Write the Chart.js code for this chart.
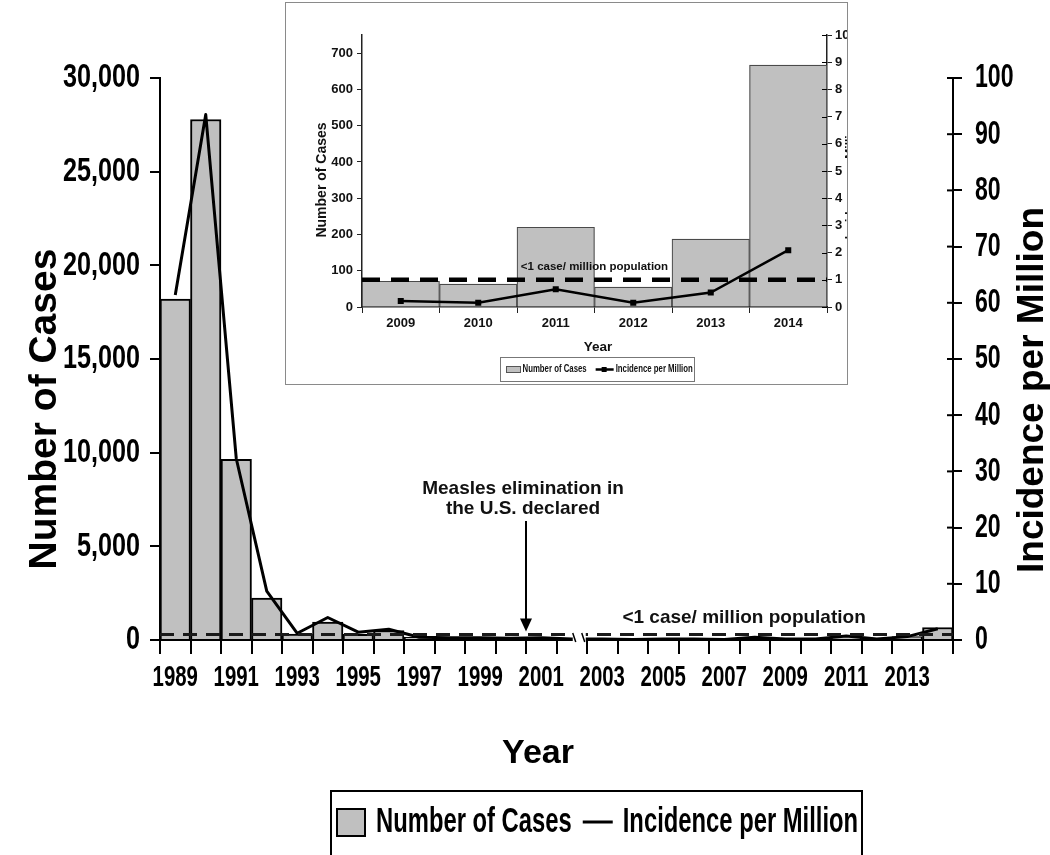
<!DOCTYPE html>
<html>
<head>
<meta charset="utf-8">
<script src="https://cdn.jsdelivr.net/npm/chart.js@4.4.1/dist/chart.umd.min.js"></script>
<style>
body { margin:0; background:#fff; width:1050px; height:855px; overflow:hidden; position:relative; }
#main { position:absolute; left:0; top:0; }
#insetBox { position:absolute; left:285px; top:2px; width:561px; height:381px; border:1px solid #8a8a8a; background:#fff; }
#inset { position:absolute; left:0; top:0; }
</style>
</head>
<body>
<canvas id="main" width="1050" height="855"></canvas>
<div id="insetBox">
  <canvas id="inset" width="561" height="381"></canvas>
</div>
<script>
// main chart, 1989-2014
const years = ['1989','1990','1991','1992','1993','1994','1995','1996','1997','1998','1999','2000','2001',
  '2002','2003','2004','2005','2006','2007','2008','2009','2010','2011','2012','2013','2014'];
const cases = [18193, 27786, 9643, 2237, 312, 963, 309, 508, 138, 100, 100, 86, 116,
  44, 56, 37, 66, 55, 43, 140, 71, 63, 220, 55, 187, 667];
const incidence = [61.4, 93.5, 32.3, 8.7, 1.2, 4.0, 1.4, 1.9, 0.5, 0.4, 0.4, 0.3, 0.4,
  0.2, 0.2, 0.1, 0.2, 0.2, 0.1, 0.5, 0.2, 0.2, 0.7, 0.2, 0.6, 2.0];
const threshold = 1;
const eliminationIndex = 11.5;   // between 2000 and 2001
const breakIndex = 13;           // axis break drawn at 2002

// inset, 2009-2014
const insetYears = ['2009','2010','2011','2012','2013','2014'];
const insetCases = [71, 63, 220, 55, 187, 667];
const insetIncidence = [0.22, 0.16, 0.65, 0.16, 0.53, 2.09];

const sans = '"Liberation Sans", Arial, sans-serif';

function rotText(ctx, txt, x, y, font) {
  ctx.save();
  ctx.translate(x, y);
  ctx.rotate(-Math.PI / 2);
  ctx.font = font;
  ctx.textAlign = 'center';
  ctx.textBaseline = 'middle';
  ctx.fillText(txt, 0, 0);
  ctx.restore();
}

// no narrow font installed: squeeze bold Liberation Sans horizontally
function narrowText(ctx, txt, x, y, size, align, k) {
  k = k || 0.68;
  ctx.save();
  ctx.font = 'bold ' + size + 'px ' + sans;
  ctx.textBaseline = 'middle';
  ctx.textAlign = 'left';
  const w = ctx.measureText(txt).width * k;
  const x0 = align === 'center' ? x - w / 2 : align === 'right' ? x - w : x;
  ctx.translate(x0, y);
  ctx.scale(k, 1);
  ctx.fillText(txt, 0, 0);
  ctx.restore();
  return w;
}

const mainOverlay = {
  id: 'mainOverlay',
  afterDatasetsDraw(chart) {
    const { ctx, chartArea: a, scales: { x, y, y1 } } = chart;
    ctx.save();
    ctx.fillStyle = '#000';
    ctx.strokeStyle = '#000';

    // threshold line
    const ty = y1.getPixelForValue(threshold);
    ctx.lineWidth = 3;
    ctx.setLineDash([14, 9]);
    ctx.strokeStyle = '#1a1a1a';
    ctx.beginPath(); ctx.moveTo(a.left, ty); ctx.lineTo(a.right, ty); ctx.stroke();
    ctx.setLineDash([]);
    ctx.font = 'bold 19px ' + sans;
    ctx.textAlign = 'center';
    ctx.textBaseline = 'middle';
    ctx.fillStyle = '#111';
    ctx.fillText('<1 case/ million population', x.getPixelForValue(18.65), ty - 17);

    // axis break at 2002
    const bx = x.getPixelForValue(breakIndex);
    ctx.fillStyle = '#fff';
    ctx.fillRect(bx + 1, a.bottom - 8, 13, 14);
    ctx.strokeStyle = '#000';
    ctx.lineWidth = 1.5;
    ctx.beginPath();
    ctx.moveTo(bx + 1, a.bottom - 7); ctx.lineTo(bx + 4, a.bottom + 2);
    ctx.moveTo(bx + 10, a.bottom - 7); ctx.lineTo(bx + 13, a.bottom + 2);
    ctx.stroke();

    // elimination arrow + note
    const ax = (x.getPixelForValue(Math.floor(eliminationIndex)) + x.getPixelForValue(Math.ceil(eliminationIndex))) / 2;
    const tip = y1.getPixelForValue(1.5);
    ctx.lineWidth = 2;
    ctx.beginPath(); ctx.moveTo(ax, 521); ctx.lineTo(ax, tip - 10); ctx.stroke();
    ctx.fillStyle = '#000';
    ctx.beginPath(); ctx.moveTo(ax - 6, tip - 13); ctx.lineTo(ax + 6, tip - 13); ctx.lineTo(ax, tip); ctx.closePath(); ctx.fill();
    ctx.font = 'bold 19px ' + sans;
    ctx.fillStyle = '#111';
    ctx.fillText('Measles elimination in', ax - 3, 489);
    ctx.fillText('the U.S. declared', ax - 3, 509);

    // inner half of right-axis ticks
    ctx.strokeStyle = '#000';
    ctx.lineWidth = 2;
    y1.ticks.forEach(t => {
      const py = y1.getPixelForValue(t.value);
      ctx.beginPath(); ctx.moveTo(a.right - 6, py); ctx.lineTo(a.right, py); ctx.stroke();
    });

    // tick labels (condensed)
    ctx.fillStyle = '#000';
    y.ticks.forEach(t => narrowText(ctx, t.value.toLocaleString('en-US'), a.left - 20, y.getPixelForValue(t.value), 34, 'right', 0.74));
    y1.ticks.forEach(t => narrowText(ctx, String(t.value), a.right + 22, y1.getPixelForValue(t.value), 34, 'left'));
    years.forEach((yr, i) => { if (i % 2 === 0) narrowText(ctx, yr, x.getPixelForValue(i), 678, 30, 'center'); });

    // axis titles
    rotText(ctx, 'Number of Cases', 45, 409, 'bold 39px ' + sans);
    rotText(ctx, 'Incidence per Million', 1033, 390, 'bold 37px ' + sans);
    ctx.font = 'bold 34px ' + sans;
    ctx.textAlign = 'center';
    ctx.fillText('Year', 538, 754);

    // legend
    const ds = chart.data.datasets;
    const lx = 331, ly = 791, mid = ly + 31;
    ctx.lineWidth = 2;
    ctx.strokeStyle = '#000';
    ctx.strokeRect(lx, ly, 531, 100);
    ctx.fillStyle = ds[0].backgroundColor;
    ctx.fillRect(lx + 6, mid - 13, 28, 27);
    ctx.strokeRect(lx + 6, mid - 13, 28, 27);
    ctx.fillStyle = '#000';
    let cx = lx + 45;
    cx += narrowText(ctx, ds[0].label, cx, mid, 35, 'left');
    ctx.lineWidth = 3;
    ctx.beginPath(); ctx.moveTo(cx + 11, mid); ctx.lineTo(cx + 41, mid); ctx.stroke();
    narrowText(ctx, ds[1].label, cx + 51, mid, 35, 'left');
    ctx.restore();
  }
};

const mainChart = new Chart(document.getElementById('main'), {
  type: 'bar',
  data: {
    labels: years,
    datasets: [{
      label: 'Number of Cases',
      data: cases,
      yAxisID: 'y',
      backgroundColor: '#c0c0c0',
      borderColor: '#000',
      borderWidth: 2,
      barPercentage: 1,
      categoryPercentage: 1,
      order: 1
    }, {
      type: 'line',
      label: 'Incidence per Million',
      data: incidence,
      yAxisID: 'y1',
      borderColor: '#000',
      borderWidth: 3,
      borderJoinStyle: 'round',
      pointRadius: 0,
      tension: 0,
      order: 0
    }]
  },
  options: {
    responsive: false,
    animation: false,
    layout: { padding: { top: 78, left: 0, right: 0, bottom: 0 } },
    plugins: { legend: { display: false }, tooltip: { enabled: false } },
    scales: {
      x: {
        grid: { drawOnChartArea: false, offset: true, color: '#000', lineWidth: 2, tickLength: 14 },
        border: { color: '#000', width: 2 },
        ticks: { display: false, autoSkip: false, maxRotation: 0 },
        afterFit: s => { s.height = 215; }
      },
      y: {
        position: 'left', min: 0, max: 30000,
        grid: { drawOnChartArea: false, color: '#000', lineWidth: 2, tickLength: 10 },
        border: { color: '#000', width: 2 },
        ticks: { display: false, stepSize: 5000 },
        afterFit: s => { s.width = 160; }
      },
      y1: {
        position: 'right', min: 0, max: 100,
        grid: { drawOnChartArea: false, color: '#000', lineWidth: 2, tickLength: 9 },
        border: { color: '#000', width: 2 },
        ticks: { display: false, stepSize: 10 },
        afterFit: s => { s.width = 97; }
      }
    }
  },
  plugins: [mainOverlay]
});

const insetOverlay = {
  id: 'insetOverlay',
  afterDatasetsDraw(chart) {
    const { ctx, chartArea: a, scales: { y1 } } = chart;
    ctx.save();
    const ty = y1.getPixelForValue(threshold);
    ctx.strokeStyle = '#000';
    ctx.lineWidth = 4.5;
    ctx.setLineDash([18, 11]);
    ctx.beginPath(); ctx.moveTo(a.left, ty); ctx.lineTo(a.right, ty); ctx.stroke();
    ctx.setLineDash([]);
    ctx.fillStyle = '#111';
    ctx.font = 'bold 11.5px ' + sans;
    ctx.textAlign = 'center';
    ctx.textBaseline = 'middle';
    ctx.fillText('<1 case/ million population', (a.left + a.right) / 2, ty - 13);

    ctx.lineWidth = 1;
    y1.ticks.forEach(t => {
      const py = Math.round(y1.getPixelForValue(t.value)) + 0.5;
      ctx.beginPath(); ctx.moveTo(a.right - 5, py); ctx.lineTo(a.right, py); ctx.stroke();
    });

    rotText(ctx, 'Number of Cases', 36, 177, 'bold 14px ' + sans);
    rotText(ctx, 'Incidence per Million', 565, 177, 'bold 12px ' + sans);
    ctx.font = 'bold 13.5px ' + sans;
    ctx.fillText('Year', 312, 344);

    // legend
    const ds = chart.data.datasets;
    const lx = 214.5, ly = 354.5, mid = ly + 12;
    ctx.strokeStyle = '#777';
    ctx.lineWidth = 1;
    ctx.strokeRect(lx, ly, 194, 24);
    ctx.fillStyle = ds[0].backgroundColor;
    ctx.fillRect(lx + 6, mid - 3, 14, 6);
    ctx.strokeStyle = '#555';
    ctx.strokeRect(lx + 6, mid - 3, 14, 6);
    ctx.fillStyle = '#111';
    let cx = lx + 22;
    cx += narrowText(ctx, ds[0].label, cx, mid, 10, 'left', 0.78);
    ctx.strokeStyle = '#000';
    ctx.lineWidth = 2.5;
    ctx.beginPath(); ctx.moveTo(cx + 9, mid); ctx.lineTo(cx + 27, mid); ctx.stroke();
    ctx.fillStyle = '#000';
    ctx.fillRect(cx + 15, mid - 2.5, 5, 5);
    ctx.fillStyle = '#111';
    narrowText(ctx, ds[1].label, cx + 29, mid, 10, 'left', 0.78);
    ctx.restore();
  }
};

const insetChart = new Chart(document.getElementById('inset'), {
  type: 'bar',
  data: {
    labels: insetYears,
    datasets: [{
      label: 'Number of Cases',
      data: insetCases,
      yAxisID: 'y',
      backgroundColor: '#c0c0c0',
      borderColor: '#4a4a4a',
      borderWidth: 1.2,
      barPercentage: 1,
      categoryPercentage: 1,
      order: 1
    }, {
      type: 'line',
      label: 'Incidence per Million',
      data: insetIncidence,
      yAxisID: 'y1',
      borderColor: '#000',
      borderWidth: 2.5,
      pointStyle: 'rect',
      pointRadius: 2.5,
      pointBackgroundColor: '#000',
      pointBorderColor: '#000',
      tension: 0,
      order: 0
    }]
  },
  options: {
    responsive: false,
    animation: false,
    layout: { padding: { top: 32, left: 0, right: 0, bottom: 0 } },
    plugins: { legend: { display: false }, tooltip: { enabled: false } },
    scales: {
      x: {
        grid: { drawOnChartArea: false, offset: true, color: '#222', lineWidth: 1, tickLength: 6 },
        border: { color: '#222', width: 1.5 },
        ticks: { color: '#111', padding: 3, maxRotation: 0, font: { family: sans, weight: 'bold', size: 13 } },
        afterFit: s => { s.height = 77; }
      },
      y: {
        position: 'left', min: 0, max: 750,
        grid: { drawOnChartArea: false, color: '#222', lineWidth: 1, tickLength: 5 },
        border: { color: '#222', width: 1.5 },
        ticks: { stepSize: 100, includeBounds: false, color: '#111', padding: 4, font: { family: sans, weight: 'bold', size: 13 } },
        afterFit: s => { s.width = 76; }
      },
      y1: {
        position: 'right', min: 0, max: 10,
        grid: { drawOnChartArea: false, color: '#222', lineWidth: 1, tickLength: 5 },
        border: { color: '#222', width: 1.5 },
        ticks: { stepSize: 1, color: '#111', padding: 3, font: { family: sans, weight: 'bold', size: 13 } },
        afterFit: s => { s.width = 20; }
      }
    }
  },
  plugins: [insetOverlay]
});
</script>
</body>
</html>
